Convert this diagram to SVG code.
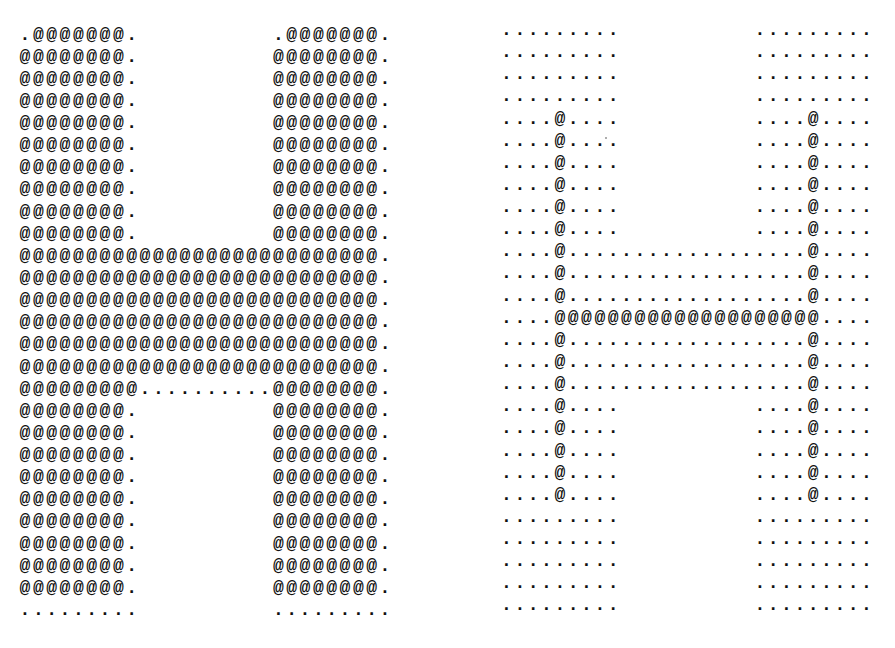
<svg xmlns="http://www.w3.org/2000/svg" width="895" height="648" viewBox="0 0 895 648">
<style>
text{font-family:"Liberation Mono","DejaVu Sans Mono",monospace;font-size:18px;letter-spacing:2.533px;fill:#111;font-weight:bold}
</style>
<rect width="895" height="648" fill="#fff"/>
<g id="thick-H">
<text x="19.6" y="39.5">.@@@@@@@.</text><text x="272.9" y="39.5">.@@@@@@@.</text>
<text x="19.6" y="61.6">@@@@@@@@.</text><text x="272.9" y="61.6">@@@@@@@@.</text>
<text x="19.6" y="83.8">@@@@@@@@.</text><text x="272.9" y="83.8">@@@@@@@@.</text>
<text x="19.6" y="105.9">@@@@@@@@.</text><text x="272.9" y="105.9">@@@@@@@@.</text>
<text x="19.6" y="128.0">@@@@@@@@.</text><text x="272.9" y="128.0">@@@@@@@@.</text>
<text x="19.6" y="150.2">@@@@@@@@.</text><text x="272.9" y="150.2">@@@@@@@@.</text>
<text x="19.6" y="172.3">@@@@@@@@.</text><text x="272.9" y="172.3">@@@@@@@@.</text>
<text x="19.6" y="194.4">@@@@@@@@.</text><text x="272.9" y="194.4">@@@@@@@@.</text>
<text x="19.6" y="216.5">@@@@@@@@.</text><text x="272.9" y="216.5">@@@@@@@@.</text>
<text x="19.6" y="238.7">@@@@@@@@.</text><text x="272.9" y="238.7">@@@@@@@@.</text>
<text x="19.6" y="260.8">@@@@@@@@@@@@@@@@@@@@@@@@@@@.</text>
<text x="19.6" y="282.9">@@@@@@@@@@@@@@@@@@@@@@@@@@@.</text>
<text x="19.6" y="305.1">@@@@@@@@@@@@@@@@@@@@@@@@@@@.</text>
<text x="19.6" y="327.2">@@@@@@@@@@@@@@@@@@@@@@@@@@@.</text>
<text x="19.6" y="349.3">@@@@@@@@@@@@@@@@@@@@@@@@@@@.</text>
<text x="19.6" y="371.5">@@@@@@@@@@@@@@@@@@@@@@@@@@@.</text>
<text x="19.6" y="393.6">@@@@@@@@@..........@@@@@@@@.</text>
<text x="19.6" y="415.7">@@@@@@@@.</text><text x="272.9" y="415.7">@@@@@@@@.</text>
<text x="19.6" y="437.8">@@@@@@@@.</text><text x="272.9" y="437.8">@@@@@@@@.</text>
<text x="19.6" y="460.0">@@@@@@@@.</text><text x="272.9" y="460.0">@@@@@@@@.</text>
<text x="19.6" y="482.1">@@@@@@@@.</text><text x="272.9" y="482.1">@@@@@@@@.</text>
<text x="19.6" y="504.2">@@@@@@@@.</text><text x="272.9" y="504.2">@@@@@@@@.</text>
<text x="19.6" y="526.4">@@@@@@@@.</text><text x="272.9" y="526.4">@@@@@@@@.</text>
<text x="19.6" y="548.5">@@@@@@@@.</text><text x="272.9" y="548.5">@@@@@@@@.</text>
<text x="19.6" y="570.6">@@@@@@@@.</text><text x="272.9" y="570.6">@@@@@@@@.</text>
<text x="19.6" y="592.8">@@@@@@@@.</text><text x="272.9" y="592.8">@@@@@@@@.</text>
<text x="19.6" y="614.9">.........</text><text x="272.9" y="614.9">.........</text>
</g>
<g id="skeleton-H" transform="translate(1.5,1)">
<text x="499.6" y="34.0">.........</text><text x="752.9" y="34.0">.........</text>
<text x="499.6" y="56.1">.........</text><text x="752.9" y="56.1">.........</text>
<text x="499.6" y="78.3">.........</text><text x="752.9" y="78.3">.........</text>
<text x="499.6" y="100.4">.........</text><text x="752.9" y="100.4">.........</text>
<text x="499.6" y="122.5">....@....</text><text x="752.9" y="122.5">....@....</text>
<text x="499.6" y="144.7">....@....</text><text x="752.9" y="144.7">....@....</text>
<text x="499.6" y="166.8">....@....</text><text x="752.9" y="166.8">....@....</text>
<text x="499.6" y="188.9">....@....</text><text x="752.9" y="188.9">....@....</text>
<text x="499.6" y="211.0">....@....</text><text x="752.9" y="211.0">....@....</text>
<text x="499.6" y="233.2">....@....</text><text x="752.9" y="233.2">....@....</text>
<text x="499.6" y="255.3">....@..................@....</text>
<text x="499.6" y="277.4">....@..................@....</text>
<text x="499.6" y="299.6">....@..................@....</text>
<text x="499.6" y="321.7">....@@@@@@@@@@@@@@@@@@@@....</text>
<text x="499.6" y="343.8">....@..................@....</text>
<text x="499.6" y="366.0">....@..................@....</text>
<text x="499.6" y="388.1">....@..................@....</text>
<text x="499.6" y="410.2">....@....</text><text x="752.9" y="410.2">....@....</text>
<text x="499.6" y="432.3">....@....</text><text x="752.9" y="432.3">....@....</text>
<text x="499.6" y="454.5">....@....</text><text x="752.9" y="454.5">....@....</text>
<text x="499.6" y="476.6">....@....</text><text x="752.9" y="476.6">....@....</text>
<text x="499.6" y="498.7">....@....</text><text x="752.9" y="498.7">....@....</text>
<text x="499.6" y="520.9">.........</text><text x="752.9" y="520.9">.........</text>
<text x="499.6" y="543.0">.........</text><text x="752.9" y="543.0">.........</text>
<text x="499.6" y="565.1">.........</text><text x="752.9" y="565.1">.........</text>
<text x="499.6" y="587.3">.........</text><text x="752.9" y="587.3">.........</text>
<text x="499.6" y="609.4">.........</text><text x="752.9" y="609.4">.........</text>
<circle cx="604.5" cy="137" r="0.8" fill="#444"/>
</g>
</svg>
